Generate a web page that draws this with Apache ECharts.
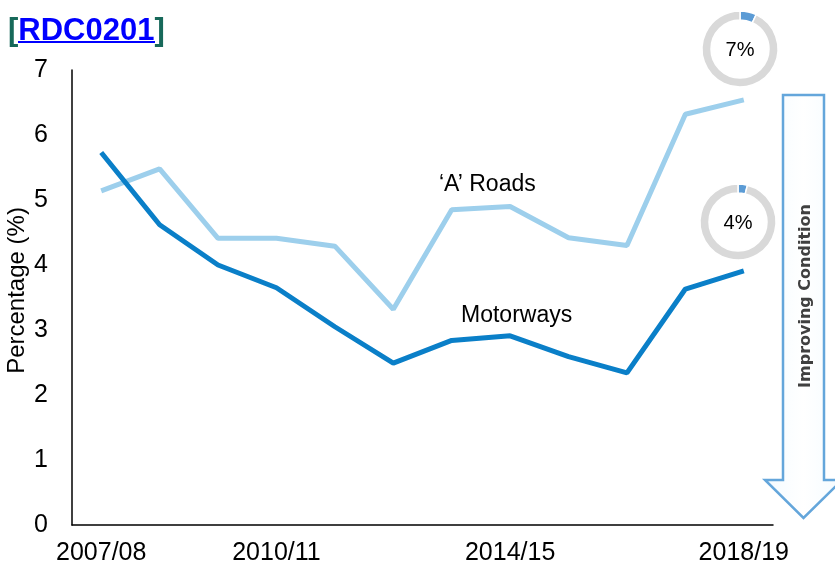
<!DOCTYPE html>
<html>
<head>
<meta charset="utf-8">
<script src="https://cdn.jsdelivr.net/npm/echarts@6/dist/echarts.min.js"></script>
<style>
    html, body { margin: 0; padding: 0; background: #fff; }
    #main { width: 835px; height: 567px; }
</style>
</head>
<body>
<div id="main"></div>
<script>
// 数据
let years = ['2007/08', '2008/09', '2009/10', '2010/11', '2011/12', '2012/13',
    '2013/14', '2014/15', '2015/16', '2016/17', '2017/18', '2018/19'];
let shownYears = ['2007/08', '2010/11', '2014/15', '2018/19'];
let aRoads = [5.14, 5.48, 4.41, 4.41, 4.29, 3.32, 4.85, 4.90, 4.42, 4.30, 6.32, 6.54];
let motorways = [5.73, 4.62, 4.00, 3.65, 3.05, 2.49, 2.84, 2.91, 2.59, 2.34, 3.63, 3.91];
let yTicks = [0, 1, 2, 3, 4, 5, 6, 7];
let ringValues = [7, 4]; // 'A' Roads, Motorways

let font = '"Liberation Sans", Arial, sans-serif';
let chart = echarts.init(document.querySelector('#main'));

function ring(value, center) {
    return {
        type: 'pie',
        silent: true,
        center: center,
        radius: [29, 38],
        startAngle: 90,
        clockwise: true,
        label: { show: false },
        labelLine: { show: false },
        itemStyle: { borderColor: '#fff', borderWidth: 1.5 },
        data: [
            { value: value, itemStyle: { color: '#5b9bd5' } },
            { value: 100 - value, itemStyle: { color: '#d9d9d9' } }
        ],
        z: 5
    };
}

let option = {
    animation: false,
    title: {
        left: 3,
        top: 8,
        text: '{b|[}{a|RDC0201}{b|]}',
        textStyle: {
            rich: {
                a: { fontFamily: font, fontSize: 31, fontWeight: 'bold', color: '#0000ff', lineHeight: 36 },
                b: { fontFamily: font, fontSize: 31, fontWeight: 'bold', color: '#17695a', lineHeight: 36 }
            }
        }
    },
    grid: {
        left: 72,
        right: 62,
        top: 70,
        bottom: 42,
        outerBoundsMode: 'none'
    },
    xAxis: {
        type: 'category',
        data: years,
        boundaryGap: true,
        axisLine: { lineStyle: { color: '#000', width: 1.5 } },
        axisTick: { show: false },
        axisLabel: {
            interval: function (i, v) { return shownYears.indexOf(v) >= 0; },
            fontFamily: font,
            fontSize: 25,
            color: '#000',
            margin: 16
        }
    },
    yAxis: {
        type: 'value',
        min: yTicks[0],
        max: yTicks[yTicks.length - 1],
        interval: 1,
        name: 'Percentage (%)',
        nameLocation: 'middle',
        nameRotate: 90,
        nameGap: 43,
        nameMoveOverlap: false,
        nameTextStyle: { fontFamily: font, fontSize: 24, color: '#000', padding: [0, 0, 0, 14] },
        axisLine: { show: true, lineStyle: { color: '#000', width: 1.5 } },
        axisTick: { show: false },
        splitLine: { show: false },
        axisLabel: { fontFamily: font, fontSize: 25, color: '#000', margin: 24 }
    },
    series: [{
            name: "'A' Roads",
            type: 'line',
            data: aRoads,
            symbol: 'none',
            lineStyle: { color: '#9dcfec', width: 5 },
            z: 3
        },
        {
            name: 'Motorways',
            type: 'line',
            data: motorways,
            symbol: 'none',
            lineStyle: { color: '#0a7fc8', width: 5 },
            z: 4
        },
        ring(ringValues[0], [740, 49]),
        ring(ringValues[1], [738, 222])
    ],
    graphic: [
        // 标题下划线
        {
            type: 'line',
            shape: { x1: 18, y1: 42, x2: 155, y2: 42 },
            style: { stroke: '#0000ff', lineWidth: 2 }
        },
        {
            type: 'text',
            left: 439,
            top: 173,
            style: { text: "\u2018A\u2019 Roads", font: '23px ' + font, fill: '#000' }
        },
        {
            type: 'text',
            left: 461,
            top: 304,
            style: { text: 'Motorways', font: '23px ' + font, fill: '#000' }
        },
        {
            type: 'text',
            x: 740,
            y: 50,
            style: { text: ringValues[0] + '%', font: '20px ' + font, fill: '#000', align: 'center', verticalAlign: 'middle' },
            z: 10
        },
        {
            type: 'text',
            x: 738,
            y: 223,
            style: { text: ringValues[1] + '%', font: '20px ' + font, fill: '#000', align: 'center', verticalAlign: 'middle' },
            z: 10
        },
        // 箭头
        {
            type: 'polygon',
            shape: {
                points: [[783, 95], [824, 95], [824, 480], [842, 480], [803.5, 518], [765, 480], [783, 480]]
            },
            style: {
                fill: new echarts.graphic.LinearGradient(0, 0, 1, 0, [
                    { offset: 0, color: '#f4fbff' },
                    { offset: 0.5, color: '#ffffff' },
                    { offset: 1, color: '#f4fbff' }
                ]),
                stroke: '#64a6db',
                lineWidth: 2.5
            },
            z: 6
        },
        {
            type: 'text',
            x: 806,
            y: 296,
            rotation: Math.PI / 2,
            style: {
                text: 'Improving Condition',
                font: 'bold 16px "DejaVu Sans", sans-serif',
                fill: '#404040',
                align: 'center',
                verticalAlign: 'middle'
            },
            z: 7
        }
    ]
};
chart.setOption(option);
</script>
</body>
</html>
